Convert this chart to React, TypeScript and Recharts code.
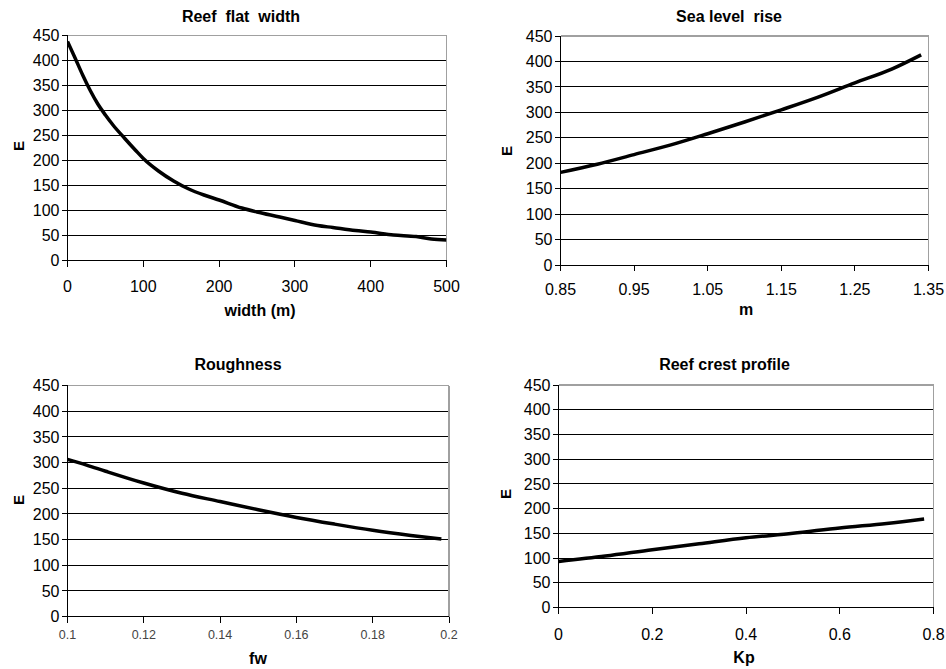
import React from 'react'
import { CartesianGrid, Line, LineChart, ReferenceLine, XAxis, YAxis } from 'recharts'

// Reef flat width: E against width (m)
const widthX = [0, 10, 20, 30, 40, 50, 60, 75, 90, 100, 120, 140, 160, 180, 200, 230, 250, 280, 300, 330, 350, 380, 400, 430, 460, 480, 500]
const widthE = [438, 405, 371, 340, 313, 291, 271, 245, 220, 204, 179, 159, 143, 131, 121, 105, 97, 87, 80, 70, 66, 60, 57, 51, 48, 43, 41]

// Sea level rise: E against m
const seaX = [0.85, 0.9, 0.95, 1.0, 1.05, 1.1, 1.15, 1.2, 1.25, 1.3, 1.34]
const seaE = [182, 198, 217, 236, 258, 281, 305, 330, 358, 385, 413]

// Roughness: E against fw
const roughX = [0.1, 0.105, 0.11, 0.12, 0.13, 0.14, 0.15, 0.16, 0.17, 0.18, 0.19, 0.198]
const roughE = [306, 295, 283, 260, 240, 224, 208, 193, 180, 168, 158, 151]

// Reef crest profile: E against Kp
const crestX = [0, 0.1, 0.2, 0.3, 0.4, 0.5, 0.6, 0.7, 0.78]
const crestE = [93, 104, 117, 129, 141, 150, 161, 170, 179]

const yTicks = [0, 50, 100, 150, 200, 250, 300, 350, 400, 450]
const widthTicks = [0, 100, 200, 300, 400, 500]
const seaTicks = [0.85, 0.95, 1.05, 1.15, 1.25, 1.35]
const roughTicks = [0.1, 0.12, 0.14, 0.16, 0.18, 0.2]
const crestTicks = [0, 0.2, 0.4, 0.6, 0.8]

const W = 946
const H = 669
const FONT = '"Liberation Sans", Arial, sans-serif'
const Y_AXIS_W = 60
const X_AXIS_H = 30

const zip = (xs: number[], es: number[]) => xs.map((x, i) => ({ x, e: es[i] }))

type Panel = {
  title: string
  xLabel: string
  data: { x: number; e: number }[]
  xTicks: number[]
  fmt: (v: number) => string
  box: { l: number; r: number; t: number; b: number }
  titleAt: [number, number]
  xLabelAt: [number, number]
  yLabelAt: [number, number]
  xTickSize: number
  xTickColor: string
  xTickGap: number
}

const trim = (v: number) => String(Number(v.toFixed(2)))

const panels: Panel[] = [
  {
    title: 'Reef  flat  width',
    xLabel: 'width (m)',
    data: zip(widthX, widthE),
    xTicks: widthTicks,
    fmt: trim,
    box: { l: 67.5, r: 446.5, t: 35.5, b: 260.5 },
    titleAt: [241, 16],
    xLabelAt: [260, 310],
    yLabelAt: [18, 146],
    xTickSize: 16,
    xTickColor: '#000',
    xTickGap: 14,
  },
  {
    title: 'Sea level  rise',
    xLabel: 'm',
    data: zip(seaX, seaE),
    xTicks: seaTicks,
    fmt: (v) => v.toFixed(2),
    box: { l: 560.5, r: 928.5, t: 36, b: 265 },
    titleAt: [729, 16],
    xLabelAt: [746, 309],
    yLabelAt: [506, 151],
    xTickSize: 16,
    xTickColor: '#000',
    xTickGap: 13,
  },
  {
    title: 'Roughness',
    xLabel: 'fw',
    data: zip(roughX, roughE),
    xTicks: roughTicks,
    fmt: trim,
    box: { l: 67.5, r: 449, t: 385.5, b: 616.5 },
    titleAt: [238, 364],
    xLabelAt: [258, 658],
    yLabelAt: [18, 500],
    xTickSize: 12.5,
    xTickColor: '#444',
    xTickGap: 8,
  },
  {
    title: 'Reef crest profile',
    xLabel: 'Kp',
    data: zip(crestX, crestE),
    xTicks: crestTicks,
    fmt: trim,
    box: { l: 558.5, r: 933.5, t: 385, b: 607.5 },
    titleAt: [724.5, 364],
    xLabelAt: [744, 657],
    yLabelAt: [505, 494],
    xTickSize: 16,
    xTickColor: '#000',
    xTickGap: 15,
  },
]

function PanelChart({ p }: { p: Panel }) {
  const xMin = p.xTicks[0]
  const xMax = p.xTicks[p.xTicks.length - 1]
  return (
    <div style={{ position: 'absolute', left: 0, top: 0 }}>
      <LineChart
        width={W}
        height={H}
        data={p.data}
        margin={{
          top: p.box.t,
          left: p.box.l - Y_AXIS_W,
          right: W - p.box.r,
          bottom: H - p.box.b - X_AXIS_H,
        }}
      >
        <CartesianGrid vertical={false} stroke="#000" horizontalValues={yTicks} />
        <XAxis
          dataKey="x"
          type="number"
          domain={[xMin, xMax]}
          ticks={p.xTicks}
          interval={0}
          height={X_AXIS_H}
          tickFormatter={p.fmt}
          tickSize={6}
          tickMargin={p.xTickGap}
          axisLine={{ stroke: '#000' }}
          tickLine={{ stroke: '#000' }}
          tick={{ fontSize: p.xTickSize, fill: p.xTickColor, fontFamily: FONT }}
          allowDataOverflow
        />
        <YAxis
          type="number"
          domain={[0, 450]}
          ticks={yTicks}
          interval={0}
          width={Y_AXIS_W}
          tickSize={6}
          tickMargin={2}
          axisLine={{ stroke: '#000' }}
          tickLine={{ stroke: '#000' }}
          tick={{ fontSize: 16, fill: '#000', fontFamily: FONT }}
        />
        <ReferenceLine y={450} stroke="#a0a0a0" strokeWidth={1.5} />
        <ReferenceLine x={xMax} stroke="#a0a0a0" strokeWidth={1.5} />
        <Line
          dataKey="e"
          type="monotone"
          stroke="#000"
          strokeWidth={3.5}
          dot={false}
          isAnimationActive={false}
        />
      </LineChart>
    </div>
  )
}

export default function App() {
  return (
    <div
      style={{
        position: 'absolute',
        left: 0,
        top: 0,
        width: W,
        height: H,
        background: '#fff',
        overflow: 'hidden',
      }}
    >
      <style>{`
        .recharts-cartesian-grid line,
        .recharts-cartesian-axis-line,
        .recharts-cartesian-axis-tick-line,
        .recharts-reference-line-line { shape-rendering: crispEdges; }
      `}</style>
      {panels.map((p) => (
        <PanelChart key={p.title} p={p} />
      ))}
      <svg
        width={W}
        height={H}
        style={{ position: 'absolute', left: 0, top: 0, pointerEvents: 'none' }}
        fontFamily={FONT}
        fontWeight="bold"
        fill="#000"
      >
        {panels.map((p) => (
          <g key={p.title}>
            <text
              x={p.titleAt[0]}
              y={p.titleAt[1]}
              textAnchor="middle"
              dominantBaseline="central"
              fontSize={16}
              style={{ whiteSpace: 'pre' }}
            >
              {p.title}
            </text>
            <text
              x={p.xLabelAt[0]}
              y={p.xLabelAt[1]}
              textAnchor="middle"
              dominantBaseline="central"
              fontSize={16}
            >
              {p.xLabel}
            </text>
            <text
              x={p.yLabelAt[0]}
              y={p.yLabelAt[1]}
              textAnchor="middle"
              dominantBaseline="central"
              fontSize={15}
              transform={`rotate(-90 ${p.yLabelAt[0]} ${p.yLabelAt[1]})`}
            >
              E
            </text>
          </g>
        ))}
      </svg>
    </div>
  )
}
